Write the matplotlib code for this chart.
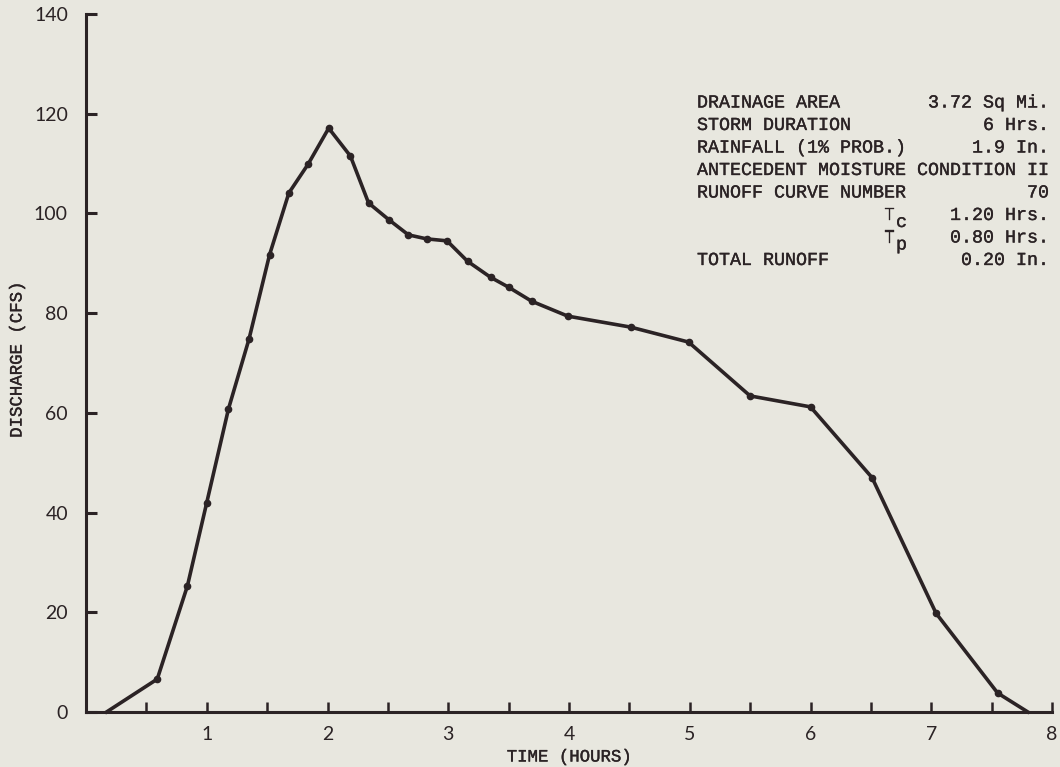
import matplotlib
matplotlib.use("Agg")
import matplotlib.pyplot as plt
import matplotlib.patheffects as pe
from matplotlib.ticker import MultipleLocator
import numpy as np

# hydrograph ordinates, time in hours and discharge in cfs
hours = [0.17, 0.59, 0.84, 1.00, 1.18, 1.35, 1.52, 1.68, 1.84, 2.01,
         2.19, 2.34, 2.51, 2.67, 2.82, 2.99, 3.16, 3.35, 3.50, 3.69,
         3.99, 4.51, 4.99, 5.50, 6.00, 6.51, 7.04, 7.55, 7.80]
discharge = [0, 6.6, 25.3, 42.0, 60.8, 74.8, 91.7, 104.1, 109.9, 117.1,
             111.5, 102.1, 98.7, 95.7, 94.9, 94.5, 90.4, 87.2, 85.2, 82.4,
             79.4, 77.2, 74.2, 63.4, 61.2, 47.0, 19.8, 3.8, 0]

x_ticks = [1, 2, 3, 4, 5, 6, 7, 8]
y_ticks = [0, 20, 40, 60, 80, 100, 120, 140]

# basin summary block: (label, value)
info_rows = [
    ("DRAINAGE AREA", "3.72 Sq Mi."),
    ("STORM DURATION", "6 Hrs."),
    ("RAINFALL (1% PROB.)", "1.9 In."),
    ("ANTECEDENT MOISTURE", "CONDITION II"),
    ("RUNOFF CURVE NUMBER", "70"),
    ("", "1.20 Hrs."),
    ("", "0.80 Hrs."),
    ("TOTAL RUNOFF", "0.20 In."),
]
sub_rows = {5: "c", 6: "p"}

bg = "#e8e7df"
ink = "#2b2325"
mono = "Liberation Mono"
num_font = "Lato"
# typewriter text is a touch heavier than the plain mono face
heavy = [pe.withStroke(linewidth=0.25, foreground=ink)]

W, H = 1060, 767
fig = plt.figure(figsize=(W / 100, H / 100), dpi=100, facecolor=bg)
ax = fig.add_axes([86 / W, 1 - 712 / H, (1052 - 86) / W, (712 - 14) / H])
ax.set_facecolor(bg)

ax.plot(hours, discharge, color=ink, lw=2.6, solid_joinstyle="round",
        marker="o", ms=4.5, markevery=slice(1, -1), zorder=3, clip_on=False)

ax.set_xlim(0, 8)
ax.set_ylim(0, 140)
ax.set_xticks(x_ticks)
ax.xaxis.set_minor_locator(MultipleLocator(0.5))
ax.set_yticks(y_ticks)
ax.set_yticklabels([str(v) for v in y_ticks])

for s in ["top", "right"]:
    ax.spines[s].set_visible(False)
for s in ["left", "bottom"]:
    ax.spines[s].set_linewidth(2.2)
    ax.spines[s].set_color(ink)

ax.tick_params(axis="x", which="both", direction="in", length=7, width=1.8,
               color=ink, pad=10)
ax.tick_params(axis="y", which="major", direction="in", length=8, width=2.2,
               color=ink, pad=13)
for lab in ax.get_xticklabels() + ax.get_yticklabels():
    lab.set_fontfamily(num_font)
    lab.set_fontsize(14)
    lab.set_color(ink)

fig.text(569 / W, 1 - 757 / H, "TIME (HOURS)", family=mono, fontsize=12.5,
         color=ink, ha="center", va="center", path_effects=heavy)
fig.text(17 / W, 1 - 360 / H, "DISCHARGE (CFS)", family=mono, fontsize=12.5,
         color=ink, ha="center", va="center", rotation=90, path_effects=heavy)

# summary text, one row every 22.5 px
for i, (label, value) in enumerate(info_rows):
    yy = 1 - (103 + 22.5 * i) / H
    if label:
        fig.text(697 / W, yy, label, family=mono, fontsize=13.2, color=ink,
                 ha="left", va="center", path_effects=heavy)
    fig.text(1049 / W, yy, value, family=mono, fontsize=13.2, color=ink,
             ha="right", va="center", path_effects=heavy)
    if i in sub_rows:
        fig.text(884 / W, yy, "T", family=mono, fontsize=13.2, color=ink,
                 ha="left", va="center", path_effects=heavy)
        fig.text(896 / W, yy - 7 / H, sub_rows[i], family=mono, fontsize=13.2,
                 color=ink, ha="left", va="center", path_effects=heavy)

fig.savefig("out.png", dpi=100, facecolor=bg)
